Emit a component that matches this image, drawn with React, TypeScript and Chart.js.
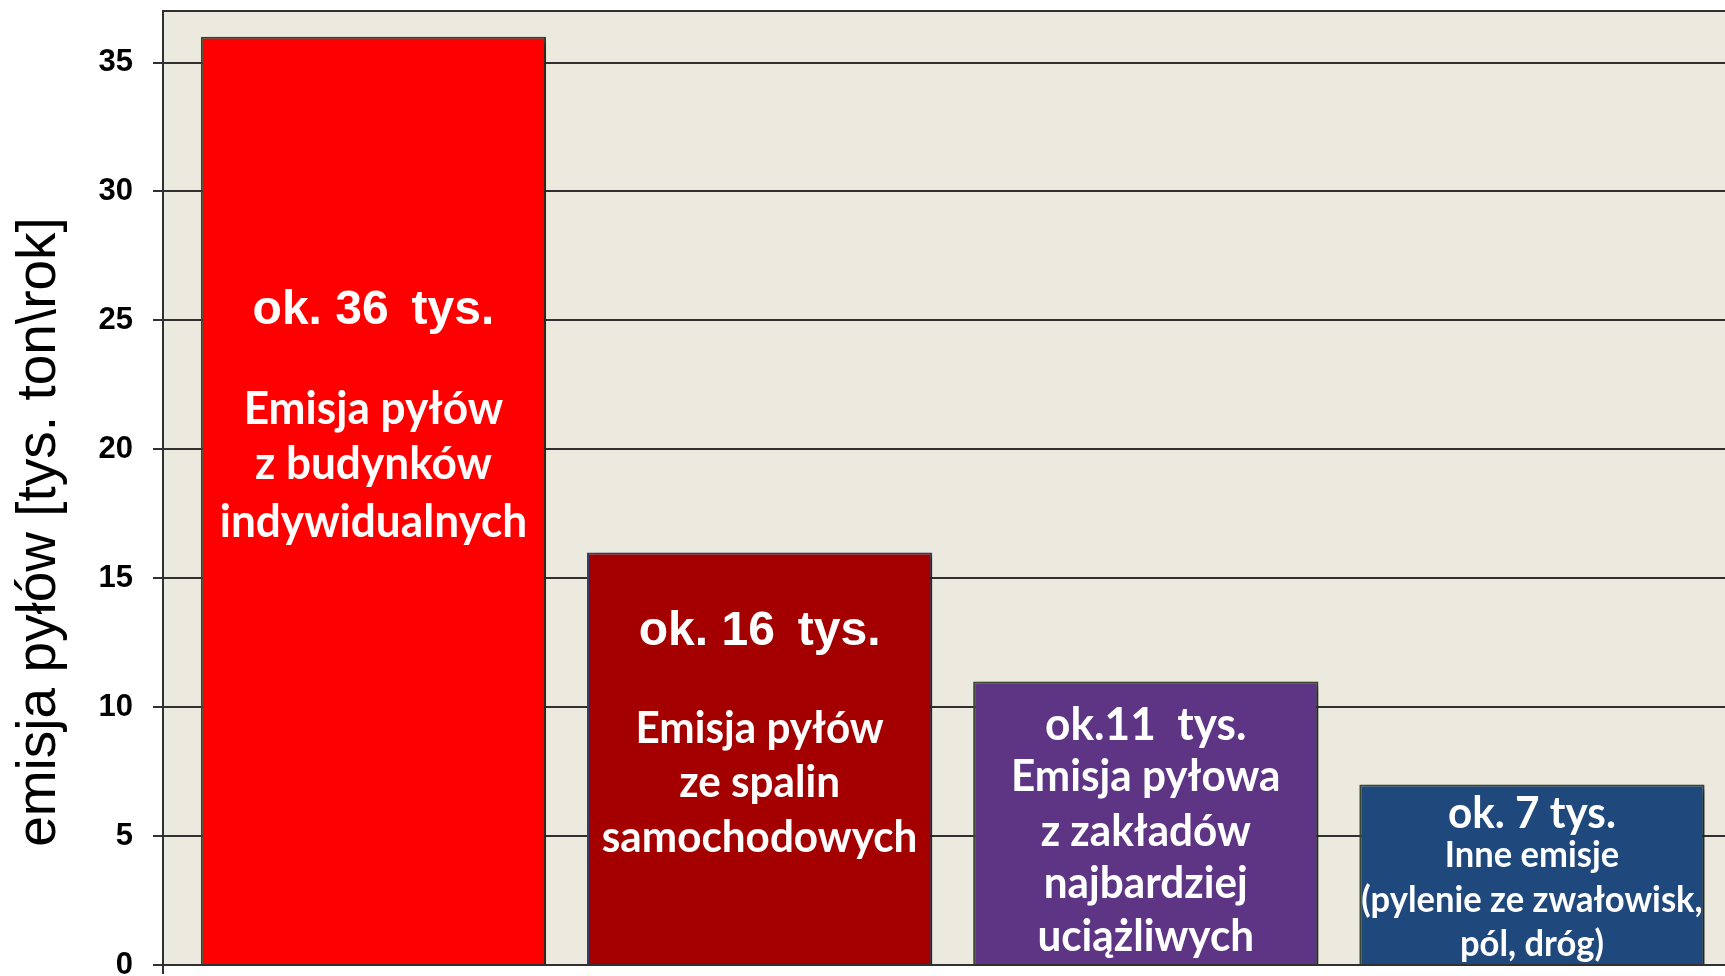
import React, { useEffect, useRef } from 'react';
import { Chart, registerables } from 'chart.js';

Chart.register(...registerables);

// ---------- data ----------
const categories = [
  'Budynki indywidualne',
  'Spaliny samochodowe',
  'Zakłady najbardziej uciążliwe',
  'Inne emisje',
];
const values = [36, 16, 11, 7];
const yMin = 0;
const yMax = 37;
const yStep = 5;
const headLabels = ['ok. 36 \u2009tys.', 'ok. 16 \u2009tys.', 'ok.11  tys.', 'ok. 7 tys.'];
const descLines = [
  ['Emisja pyłów', 'z budynków', 'indywidualnych'],
  ['Emisja pyłów', 'ze spalin', 'samochodowych'],
  ['Emisja pyłowa', 'z zakładów', 'najbardziej', 'uciążliwych'],
  ['Inne emisje', '(pylenie ze zwałowisk,', 'pól, dróg)'],
];
const yTitle = 'emisja pyłów [tys. ton\\rok]';

// ---------- styles ----------
const barColors = ['#FF0000', '#A50000', '#5E3585', '#1F497D'];
const barBorders = ['#2E4A2E', '#34406E', '#3C4A30', '#3C4A30'];
const ARIAL = "'Liberation Sans', Arial, sans-serif";
const CAL = "Lato, 'Open Sans', sans-serif";
const CAL_SX = 0.96;
const labelLayout = [
  { head: { fam: ARIAL, size: 48, sx: 1, dy: 287 }, body: { size: 46, dys: [387, 442, 500] } },
  { head: { fam: ARIAL, size: 48, sx: 1, dy: 93 }, body: { size: 44, dys: [191, 245, 300] } },
  { head: { fam: CAL, size: 46, sx: CAL_SX, dy: 59 }, body: { size: 44, dys: [110, 165, 217, 270] } },
  { head: { fam: CAL, size: 44, sx: CAL_SX, dy: 43 }, body: { size: 36, dys: [82, 127, 171] } },
];
const PLOT_BG = '#ECEADF';
const GRID = '#303030';

const decorPlugin = {
  id: 'decor',
  beforeDraw(chart: any) {
    const { ctx, chartArea: a } = chart;
    ctx.save();
    ctx.fillStyle = PLOT_BG;
    ctx.fillRect(a.left, a.top, a.right - a.left, a.bottom - a.top);
    ctx.restore();
  },
  beforeDatasetsDraw(chart: any) {
    const { ctx } = chart;
    ctx.save();
    ctx.shadowColor = 'rgba(0,0,0,0.45)';
    ctx.shadowOffsetX = 5;
    ctx.shadowOffsetY = 3;
    ctx.shadowBlur = 6;
  },
  afterDatasetsDraw(chart: any) {
    chart.ctx.restore();
  },
  afterDraw(chart: any) {
    const { ctx, chartArea: a } = chart;
    ctx.save();
    ctx.strokeStyle = GRID;
    ctx.lineWidth = 2;
    ctx.beginPath();
    ctx.moveTo(a.left, a.top);
    ctx.lineTo(a.right, a.top);
    ctx.stroke();
    ctx.beginPath();
    ctx.moveTo(a.left, a.bottom);
    ctx.lineTo(a.left, a.bottom + 9);
    ctx.stroke();

    ctx.fillStyle = '#000';
    ctx.font = `55px ${ARIAL}`;
    ctx.textAlign = 'center';
    ctx.textBaseline = 'alphabetic';
    ctx.translate(55, 532);
    ctx.rotate(-Math.PI / 2);
    ctx.fillText(yTitle, 0, 0);
    ctx.restore();

    const meta = chart.getDatasetMeta(0);
    meta.data.forEach((el: any, i: number) => {
      const L = labelLayout[i];
      const top = el.y;
      const x = el.x;
      ctx.save();
      ctx.fillStyle = '#FFFFFF';
      ctx.textAlign = 'center';
      ctx.textBaseline = 'alphabetic';
      const draw = (t: string, font: string, sx: number, y: number) => {
        ctx.save();
        ctx.font = font;
        ctx.translate(x, y);
        ctx.scale(sx, 1);
        ctx.fillText(t, 0, 0);
        ctx.restore();
      };
      draw(headLabels[i], `bold ${L.head.size}px ${L.head.fam}`, L.head.sx, top + L.head.dy);
      descLines[i].forEach((t, j) => {
        draw(t, `bold ${L.body.size}px ${CAL}`, CAL_SX, top + L.body.dys[j]);
      });
      ctx.restore();
    });
  },
};

export default function App() {
  const ref = useRef<HTMLCanvasElement>(null);
  useEffect(() => {
    document.body.style.margin = '0';
    document.body.style.overflow = 'hidden';
    const canvas = ref.current!;
    const chart = new Chart(canvas, {
      type: 'bar',
      data: {
        labels: categories,
        datasets: [
          {
            label: 'emisja',
            data: values.map((v, i) => ({ x: i, y: v })) as any,
            backgroundColor: barColors,
            borderColor: barBorders,
            borderWidth: 2,
            barPercentage: 0.894,
            categoryPercentage: 1,
          },
        ],
      },
      options: {
        animation: false,
        responsive: false,
        layout: { padding: { top: 11, left: 0, right: 0, bottom: 0 } },
        plugins: { legend: { display: false }, tooltip: { enabled: false } },
        scales: {
          x: {
            type: 'linear',
            min: -0.545,
            max: 3.5,
            offset: false,
            ticks: { display: false, stepSize: 1, includeBounds: false },
            grid: { display: false, drawTicks: false },
            border: { display: true, color: GRID, width: 2 },
            afterFit: (s: any) => {
              s.height = 11;
              s.paddingLeft = 0;
              s.paddingRight = 0;
            },
          },
          y: {
            min: yMin,
            max: yMax,
            ticks: {
              stepSize: yStep,
              includeBounds: false,
              color: '#000',
              padding: 20,
              font: { family: ARIAL, weight: 'bold', size: 31 },
            },
            grid: { color: GRID, lineWidth: 2, tickLength: 10, drawTicks: true },
            border: { display: true, color: GRID, width: 2 },
            afterFit: (s: any) => {
              s.width = 163;
              s.paddingTop = 0;
              s.paddingBottom = 0;
            },
          },
        },
      },
      plugins: [decorPlugin],
    } as any);
    return () => chart.destroy();
  }, []);
  return (
    <div style={{ width: 1725, height: 976 }}>
      <canvas ref={ref} width={1725} height={976} />
    </div>
  );
}
